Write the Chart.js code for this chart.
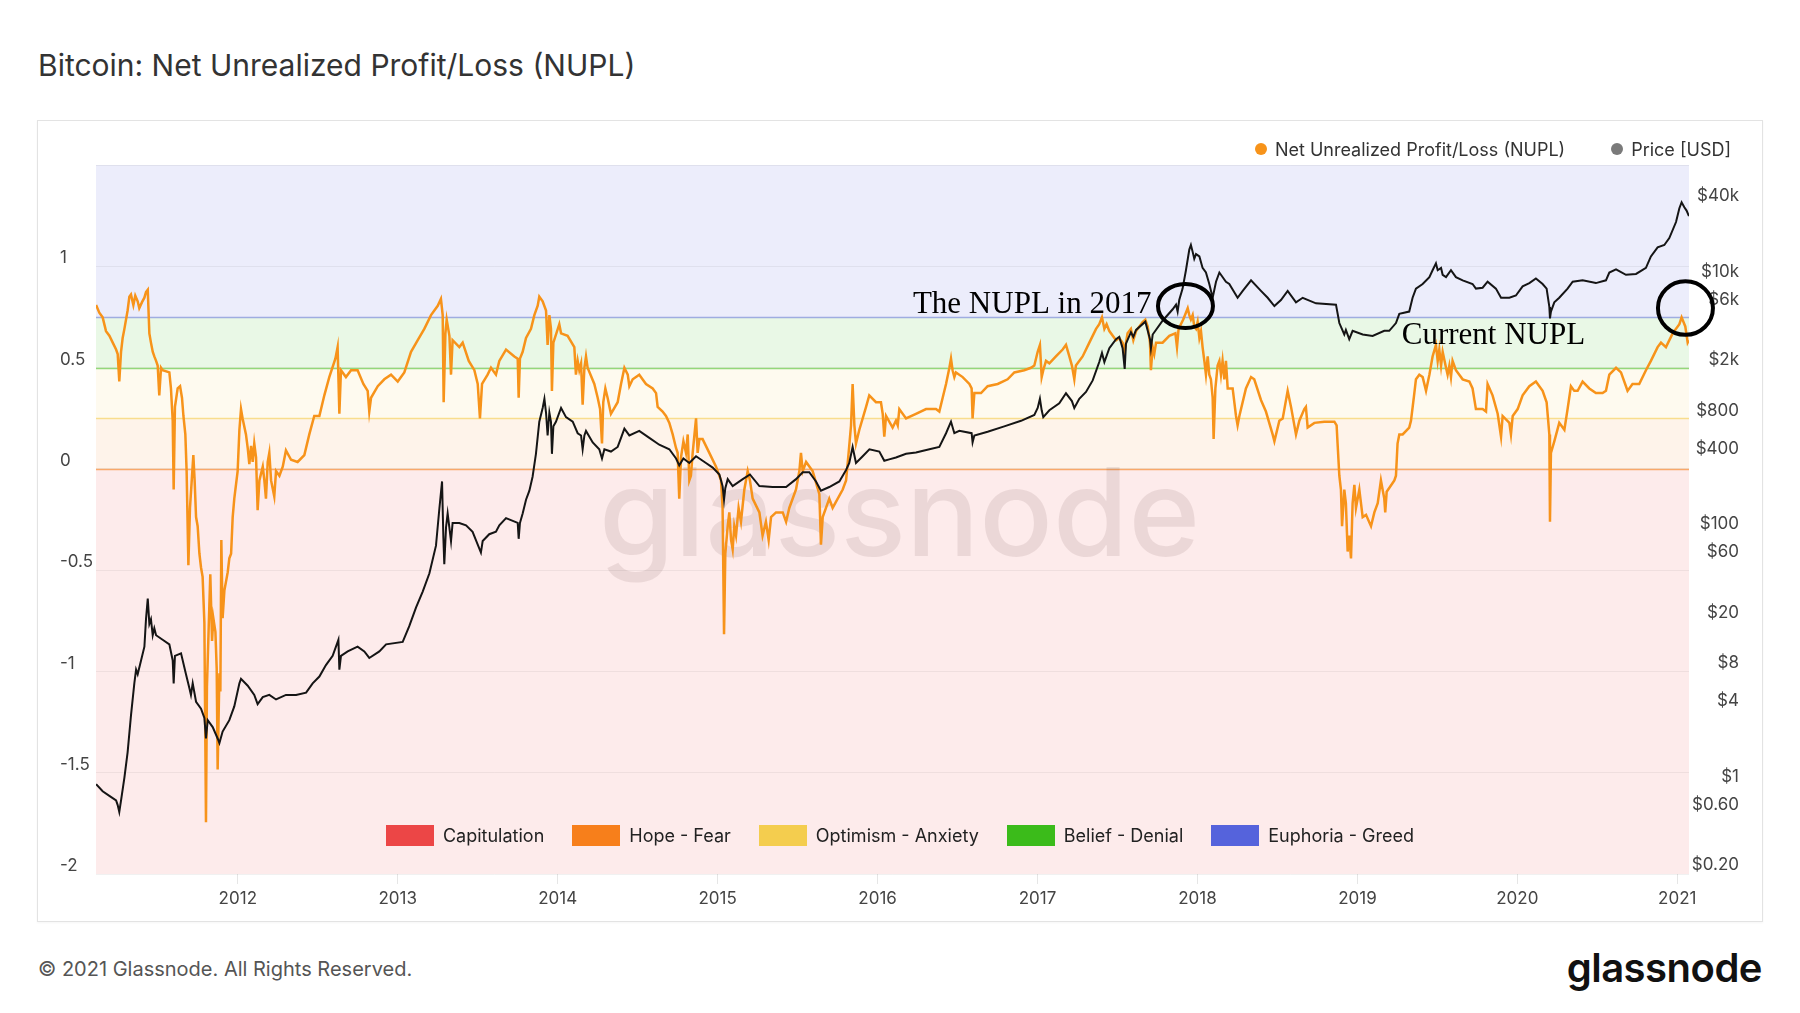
<!DOCTYPE html>
<html>
<head>
<meta charset="utf-8">
<script src="https://cdn.jsdelivr.net/npm/chart.js@4.4.1/dist/chart.umd.min.js"></script>
<style>
html,body{margin:0;padding:0;background:#fff;width:1800px;height:1013px;overflow:hidden;font-family:Inter,"Noto Sans",sans-serif;}
#title{position:absolute;left:38px;top:50px;font-size:30px;line-height:1;font-weight:400;color:#333;white-space:nowrap;}
#frame{position:absolute;left:37px;top:120px;width:1726px;height:802px;box-sizing:border-box;border:1px solid #e3e3e3;box-shadow:0 1px 2px rgba(0,0,0,0.04);}
#wrap{position:absolute;left:38px;top:121px;width:1723px;height:800px;}
#legendTop{position:absolute;right:69px;top:139px;height:20px;display:flex;align-items:center;gap:46px;font-size:18px;color:#333;}
.li{display:flex;align-items:center;white-space:nowrap;}
.dot{width:12px;height:12px;border-radius:50%;margin-right:8px;}
#zones{position:absolute;left:37px;width:1726px;top:824px;height:23px;display:flex;justify-content:center;align-items:center;gap:28px;font-size:18px;color:#222;}
.zi{display:flex;align-items:center;white-space:nowrap;}
.sq{width:48px;height:21px;margin-right:9px;}
#footer{position:absolute;left:38px;top:959px;font-size:20px;line-height:1;color:#555;white-space:nowrap;}
#logo{position:absolute;right:38px;top:948px;font-size:40px;line-height:1;font-weight:600;color:#111;letter-spacing:-0.5px;}
</style>
</head>
<body>
<div id="title">Bitcoin: Net Unrealized Profit/Loss (NUPL)</div>
<div id="frame"></div>
<div id="wrap"><canvas id="c" width="1723" height="800"></canvas></div>
<div id="legendTop"></div>
<div id="zones"></div>
<div id="footer">© 2021 Glassnode. All Rights Reserved.</div>
<div id="logo">glassnode</div>
<script>
// ---------- DATA ----------
const yearTicks = [2012, 2013, 2014, 2015, 2016, 2017, 2018, 2019, 2020, 2021];
const nuplTickValues = [-2, -1.5, -1, -0.5, 0, 0.5, 1, 1.5];
const nuplTickLabels = ['-2', '-1.5', '-1', '-0.5', '0', '0.5', '1', ''];
const priceTickValues = [0.2, 0.6, 1, 4, 8, 20, 60, 100, 400, 800, 2000, 6000, 10000, 40000];
const priceTickLabels = ['$0.20', '$0.60', '$1', '$4', '$8', '$20', '$60', '$100', '$400', '$800', '$2k', '$6k', '$10k', '$40k'];

const zoneNames = ['Capitulation', 'Hope - Fear', 'Optimism - Anxiety', 'Belief - Denial', 'Euphoria - Greed'];
const zoneFrom = [-2, 0, 0.25, 0.5, 0.75];
const zoneTo = [0, 0.25, 0.5, 0.75, 1.5];

const nuplYears = [
2011.114,2011.134,2011.155,2011.176,2011.197,2011.218,2011.239,2011.249,2011.259,2011.270,2011.280,2011.291,2011.311,2011.322,2011.332,2011.347,2011.359,2011.374,2011.384,2011.401,2011.416,2011.426,2011.437,2011.447,2011.457,2011.468,2011.478,2011.489,2011.499,2011.509,2011.520,2011.530,2011.572,2011.582,2011.593,2011.599,2011.607,2011.624,2011.639,2011.651,2011.660,2011.672,2011.680,2011.691,2011.701,2011.712,2011.722,2011.730,2011.739,2011.749,2011.760,2011.770,2011.780,2011.791,2011.797,2011.801,2011.807,2011.818,2011.828,2011.839,2011.847,2011.860,2011.868,2011.874,2011.885,2011.891,2011.897,2011.905,2011.916,2011.937,2011.947,2011.958,2011.968,2011.978,2011.999,
2012.010,2012.020,2012.030,2012.051,2012.062,2012.072,2012.083,2012.093,2012.103,2012.114,2012.124,2012.135,2012.156,2012.166,2012.176,2012.187,2012.197,2012.208,2012.228,2012.239,2012.260,2012.281,2012.301,2012.333,2012.374,2012.416,2012.447,2012.478,2012.510,2012.541,2012.572,2012.610,2012.624,2012.635,2012.645,2012.676,2012.708,2012.749,2012.785,2012.812,2012.822,2012.833,2012.875,2012.916,2012.958,
2013.000,2013.041,2013.083,2013.125,2013.166,2013.208,2013.250,2013.270,2013.281,2013.287,2013.298,2013.306,2013.323,2013.333,2013.343,2013.385,2013.406,2013.444,2013.479,2013.500,2013.514,2013.527,2013.562,2013.583,2013.614,2013.635,2013.677,2013.729,2013.750,2013.756,2013.764,2013.781,2013.802,2013.833,2013.854,2013.875,2013.885,2013.906,2013.927,2013.937,2013.948,2013.958,2013.964,2013.973,
2014.010,2014.021,2014.062,2014.104,2014.114,2014.125,2014.135,2014.146,2014.156,2014.167,2014.177,2014.187,2014.229,2014.250,2014.265,2014.277,2014.285,2014.298,2014.312,2014.333,2014.375,2014.396,2014.417,2014.438,2014.448,2014.469,2014.510,2014.552,2014.594,2014.615,2014.625,2014.656,2014.677,2014.698,2014.719,2014.740,2014.750,2014.760,2014.771,2014.786,2014.802,2014.813,2014.823,2014.833,2014.844,2014.865,2014.875,2014.886,2014.906,2014.948,2014.990,
2015.021,2015.031,2015.040,2015.048,2015.063,2015.073,2015.084,2015.094,2015.104,2015.115,2015.131,2015.146,2015.167,2015.188,2015.202,2015.219,2015.261,2015.281,2015.302,2015.319,2015.334,2015.365,2015.407,2015.428,2015.448,2015.490,2015.511,2015.521,2015.532,2015.553,2015.594,2015.636,2015.646,2015.657,2015.698,2015.719,2015.782,2015.803,2015.819,2015.834,2015.844,2015.855,2015.865,2015.886,2015.928,2015.948,2015.990,
2016.021,2016.032,2016.042,2016.053,2016.094,2016.115,2016.126,2016.136,2016.178,2016.240,2016.303,2016.365,2016.386,2016.407,2016.428,2016.449,2016.459,2016.469,2016.480,2016.490,2016.532,2016.574,2016.588,2016.594,2016.605,2016.647,2016.688,2016.751,2016.813,2016.855,2016.917,2016.959,2016.980,
2017.001,2017.015,2017.026,2017.036,2017.053,2017.074,2017.115,2017.157,2017.178,2017.199,2017.215,2017.230,2017.240,2017.282,2017.324,2017.366,2017.386,2017.403,2017.418,2017.432,2017.449,2017.491,2017.511,2017.532,2017.545,2017.553,2017.563,2017.584,2017.599,2017.616,2017.657,2017.674,2017.689,2017.703,2017.709,2017.720,2017.730,2017.741,2017.782,2017.824,2017.862,2017.872,2017.882,2017.911,2017.939,2017.949,2017.959,2017.970,2017.980,2017.991,
2018.001,2018.012,2018.022,2018.032,2018.043,2018.053,2018.064,2018.074,2018.084,2018.095,2018.101,2018.112,2018.126,2018.137,2018.147,2018.157,2018.168,2018.178,2018.189,2018.220,2018.241,2018.251,2018.262,2018.303,2018.335,2018.355,2018.397,2018.428,2018.470,2018.481,2018.512,2018.533,2018.564,2018.585,2018.616,2018.637,2018.668,2018.678,2018.689,2018.731,2018.793,2018.856,2018.870,2018.876,2018.887,2018.897,2018.904,2018.918,2018.928,2018.939,2018.949,2018.960,2018.970,2018.981,2018.991,
2019.012,2019.033,2019.054,2019.085,2019.106,2019.127,2019.147,2019.168,2019.174,2019.183,2019.231,2019.241,2019.251,2019.262,2019.283,2019.324,2019.335,2019.356,2019.366,2019.387,2019.408,2019.429,2019.450,2019.470,2019.491,2019.502,2019.512,2019.523,2019.533,2019.554,2019.564,2019.575,2019.585,2019.595,2019.616,2019.658,2019.700,2019.720,2019.741,2019.783,2019.804,2019.814,2019.845,2019.877,2019.898,2019.908,2019.950,2019.960,2019.971,
2020.002,2020.033,2020.075,2020.116,2020.158,2020.183,2020.200,2020.204,2020.210,2020.231,2020.262,2020.294,2020.314,2020.335,2020.356,2020.377,2020.408,2020.450,2020.491,2020.533,2020.554,2020.575,2020.617,2020.648,2020.679,2020.689,2020.720,2020.762,2020.804,2020.835,2020.877,2020.898,2020.929,2020.971,
2021.013,2021.027,2021.050,2021.065,2021.073
];
const nuplValues = [
0.809,0.771,0.748,0.680,0.657,0.623,0.589,0.567,0.431,0.578,0.646,0.691,0.782,0.850,0.861,0.809,0.855,0.827,0.793,0.823,0.845,0.873,0.884,0.669,0.623,0.578,0.555,0.533,0.510,0.363,0.499,0.487,0.476,0.397,0.238,-0.102,0.306,0.397,0.408,0.351,0.261,0.170,-0.011,-0.476,-0.193,-0.057,0.068,-0.057,-0.238,-0.283,-0.419,-0.487,-0.533,-0.759,-1.348,-1.745,-1.077,-0.782,-0.521,-0.850,-0.737,-0.805,-0.986,-1.484,-1.009,-1.099,-0.351,-0.737,-0.601,-0.510,-0.442,-0.419,-0.238,-0.147,-0.011,
0.193,0.295,0.249,0.170,0.102,0.023,0.113,0.034,0.125,0.057,-0.204,-0.057,0.011,-0.057,-0.147,0.034,0.079,-0.057,-0.136,-0.011,-0.034,0.011,0.091,0.045,0.034,0.068,0.170,0.261,0.261,0.363,0.453,0.544,0.601,0.272,0.487,0.453,0.487,0.487,0.419,0.385,0.283,0.351,0.408,0.442,0.465,
0.431,0.476,0.578,0.635,0.691,0.759,0.805,0.839,0.759,0.329,0.669,0.737,0.657,0.465,0.635,0.601,0.623,0.533,0.487,0.419,0.249,0.419,0.465,0.499,0.465,0.533,0.589,0.555,0.544,0.351,0.544,0.578,0.646,0.691,0.759,0.805,0.850,0.827,0.782,0.612,0.759,0.691,0.385,0.623,
0.714,0.669,0.657,0.601,0.465,0.533,0.487,0.521,0.317,0.499,0.555,0.499,0.419,0.351,0.295,0.125,0.329,0.397,0.351,0.272,0.329,0.419,0.499,0.465,0.408,0.442,0.465,0.419,0.397,0.374,0.306,0.283,0.261,0.227,0.170,0.102,0.079,-0.147,0.057,0.136,0.079,0.170,-0.057,-0.034,0.079,0.249,0.079,0.147,0.147,0.079,0.011,
-0.057,-0.193,-0.816,-0.419,-0.283,-0.215,-0.351,-0.397,-0.283,-0.329,-0.193,-0.261,-0.102,-0.011,-0.057,-0.147,-0.215,-0.329,-0.261,-0.351,-0.238,-0.215,-0.215,-0.261,-0.193,-0.102,-0.011,0.079,-0.011,0.034,-0.011,-0.125,-0.374,-0.238,-0.147,-0.193,-0.102,-0.057,0.079,0.215,0.419,0.215,0.125,0.193,0.306,0.363,0.329,
0.329,0.272,0.159,0.261,0.204,0.238,0.215,0.295,0.249,0.272,0.295,0.295,0.283,0.351,0.419,0.499,0.544,0.487,0.453,0.476,0.453,0.419,0.397,0.249,0.374,0.374,0.408,0.419,0.442,0.476,0.487,0.499,0.510,
0.578,0.612,0.453,0.487,0.533,0.521,0.555,0.589,0.612,0.555,0.510,0.442,0.510,0.555,0.623,0.691,0.714,0.748,0.691,0.714,0.680,0.635,0.646,0.623,0.578,0.623,0.669,0.691,0.635,0.680,0.725,0.737,0.703,0.623,0.487,0.601,0.567,0.623,0.623,0.657,0.669,0.601,0.691,0.737,0.793,0.759,0.737,0.759,0.703,0.691,
0.725,0.646,0.680,0.601,0.533,0.465,0.555,0.465,0.442,0.351,0.147,0.397,0.510,0.533,0.465,0.533,0.442,0.533,0.397,0.397,0.261,0.215,0.261,0.397,0.453,0.442,0.340,0.283,0.170,0.136,0.238,0.249,0.385,0.306,0.170,0.238,0.295,0.306,0.204,0.227,0.233,0.233,0.215,0.125,-0.034,-0.102,-0.283,-0.102,-0.170,-0.408,-0.329,-0.442,-0.170,-0.079,-0.193,
-0.102,-0.238,-0.227,-0.283,-0.215,-0.170,-0.057,-0.147,-0.215,-0.113,-0.057,-0.034,0.125,0.170,0.170,0.204,0.238,0.374,0.442,0.465,0.453,0.385,0.465,0.555,0.612,0.533,0.589,0.510,0.578,0.499,0.465,0.510,0.453,0.533,0.487,0.442,0.431,0.397,0.295,0.295,0.283,0.419,0.363,0.272,0.159,0.261,0.227,0.170,0.261,
0.295,0.363,0.408,0.431,0.385,0.329,0.170,-0.261,0.079,0.136,0.227,0.193,0.295,0.408,0.385,0.385,0.431,0.397,0.374,0.374,0.385,0.465,0.499,0.476,0.408,0.385,0.419,0.419,0.487,0.533,0.601,0.623,0.601,0.669,
0.714,0.748,0.703,0.623,0.635
];

const priceYears = [
2011.114,2011.155,2011.197,2011.239,2011.249,2011.259,2011.270,2011.291,2011.311,2011.332,2011.353,2011.364,2011.374,2011.395,2011.416,2011.426,2011.437,2011.447,2011.457,2011.468,2011.478,2011.489,2011.530,2011.572,2011.593,2011.599,2011.607,2011.645,2011.676,2011.697,2011.707,2011.718,2011.739,2011.770,2011.791,2011.801,2011.812,2011.843,2011.874,2011.885,2011.905,2011.947,2011.978,
2012.010,2012.020,2012.062,2012.103,2012.124,2012.156,2012.197,2012.239,2012.301,2012.364,2012.427,2012.468,2012.510,2012.551,2012.593,2012.629,2012.635,2012.645,2012.687,2012.749,2012.791,2012.822,2012.885,2012.927,
2013.031,2013.072,2013.114,2013.156,2013.198,2013.239,2013.260,2013.277,2013.285,2013.291,2013.302,2013.312,2013.333,2013.343,2013.385,2013.427,2013.468,2013.520,2013.531,2013.572,2013.614,2013.635,2013.677,2013.750,2013.756,2013.764,2013.781,2013.802,2013.823,2013.843,2013.864,2013.885,2013.906,2013.917,2013.927,2013.937,2013.948,2013.958,2013.964,2013.973,2013.989,
2014.021,2014.052,2014.094,2014.125,2014.146,2014.156,2014.167,2014.177,2014.219,2014.260,2014.277,2014.292,2014.333,2014.375,2014.396,2014.417,2014.448,2014.510,2014.573,2014.635,2014.698,2014.740,2014.760,2014.786,2014.823,2014.865,2014.927,2014.969,
2015.011,2015.031,2015.040,2015.048,2015.063,2015.094,2015.157,2015.202,2015.261,2015.344,2015.428,2015.490,2015.532,2015.573,2015.615,2015.646,2015.698,2015.761,2015.803,2015.823,2015.844,2015.865,2015.907,2015.949,
2016.011,2016.042,2016.073,2016.115,2016.178,2016.240,2016.324,2016.386,2016.428,2016.459,2016.480,2016.511,2016.588,2016.594,2016.605,2016.688,2016.792,2016.897,2016.980,
2017.001,2017.015,2017.026,2017.036,2017.074,2017.136,2017.178,2017.215,2017.230,2017.261,2017.303,2017.345,2017.386,2017.403,2017.418,2017.449,2017.491,2017.511,2017.532,2017.545,2017.553,2017.584,2017.599,2017.616,2017.674,2017.703,2017.709,2017.720,2017.782,2017.845,2017.866,2017.876,2017.886,2017.907,2017.928,2017.949,2017.959,2017.970,2017.980,2017.991,
2018.012,2018.032,2018.053,2018.074,2018.095,2018.116,2018.137,2018.178,2018.199,2018.251,2018.283,2018.335,2018.397,2018.439,2018.481,2018.522,2018.564,2018.616,2018.658,2018.741,2018.866,2018.887,2018.918,2018.928,2018.949,2018.970,
2019.033,2019.095,2019.168,2019.199,2019.241,2019.262,2019.324,2019.345,2019.366,2019.408,2019.450,2019.470,2019.491,2019.502,2019.523,2019.533,2019.554,2019.585,2019.616,2019.658,2019.720,2019.741,2019.783,2019.814,2019.866,2019.898,2019.950,2019.991,
2020.033,2020.075,2020.116,2020.158,2020.183,2020.200,2020.204,2020.210,2020.231,2020.262,2020.314,2020.346,2020.408,2020.491,2020.554,2020.575,2020.617,2020.679,2020.742,2020.804,2020.835,2020.877,2020.919,2020.950,2020.992,
2021.013,2021.027,2021.044,2021.058,2021.073
];
const priceValues = [
1.03,0.905,0.832,0.765,0.703,0.620,0.765,1.16,1.84,3.60,6.48,8.32,7.66,9.84,12.65,20.9,30.5,19.2,20.9,15.6,17.7,15.6,14.35,13.2,9.84,6.48,10.7,11.2,7.66,5.95,5.25,6.48,4.63,4.08,3.45,2.37,3.31,2.92,2.37,2.18,2.69,3.31,4.26,
6.48,7.04,6.21,5.25,4.44,5.04,5.25,4.83,5.25,5.25,5.47,6.48,7.34,9.05,10.7,14.35,8.32,10.7,11.6,12.65,11.6,10.3,11.6,13.2,
13.8,18.4,25.8,34.6,48.3,79.9,156,258,94.5,57.1,112,144,86.9,121,121,116,103,70.5,86.9,98.5,103,116,132,121,90.6,121,144,185,218,281,427,767,986,1166,907,597,907,767,427,705,767,
986,834,767,622,597,464,597,649,526,464,392,464,445,484,572,676,597,649,572,504,464,392,346,392,361,409,361,332,
293,237,185,228,269,237,269,293,237,233,233,269,305,305,258,218,233,258,318,361,484,361,409,464,
445,376,386,399,427,438,464,484,622,767,622,649,622,526,597,638,705,780,869,
986,1166,945,834,945,1072,1289,1118,986,1166,1322,1630,2279,2694,2279,2930,3463,3612,2930,2010,3185,3928,3612,4095,4761,3463,2930,3766,4842,5970,6493,5726,7058,8701,12170,17740,19290,17010,15010,16320,
15640,12690,11670,9463,7363,9868,11670,9868,9463,7363,8347,10120,8347,7363,6330,7058,8347,6768,7363,6656,6493,4643,3766,4095,3463,4027,
3766,3673,4027,4027,4643,5491,5726,7363,8701,9463,10730,12170,13790,12170,12690,11190,10730,12170,10730,10120,9463,8701,8849,9868,8701,7363,7363,7676,
9075,9623,10460,9463,8701,6225,5049,5726,6768,7363,8701,9868,10120,9623,10120,11670,12370,11190,11380,12690,15640,18490,19290,21870,29320,
37690,42030,38330,36150,32690
];

// ---------- STYLE / LAYOUT ----------
const FONT = 'Inter, "Noto Sans", sans-serif';
Chart.defaults.font.family = FONT;
const zoneColors = ['#ec4646', '#f77f1b', '#f4cd4e', '#3bbb1a', '#5563dc'];
const zoneFills = ['rgba(236,70,70,0.105)', 'rgba(247,127,27,0.09)', 'rgba(244,205,78,0.09)', 'rgba(59,187,26,0.11)', 'rgba(85,99,220,0.115)'];
const zoneLines = ['rgba(236,70,70,0)', 'rgba(247,127,27,0.62)', 'rgba(244,205,78,0.6)', 'rgba(59,187,26,0.55)', 'rgba(85,99,220,0.5)'];

const zonesPlugin = {
  id: 'zones',
  beforeDraw(chart) {
    const {ctx, chartArea: a, scales: {y}} = chart;
    ctx.save();
    zoneFrom.forEach((f, i) => {
      const top = y.getPixelForValue(zoneTo[i]);
      const bot = y.getPixelForValue(f);
      ctx.fillStyle = zoneFills[i];
      ctx.fillRect(a.left, top, a.right - a.left, bot - top);
    });
    ctx.restore();
  },
  beforeDatasetsDraw(chart) {
    const {ctx, chartArea: a, scales: {y}} = chart;
    ctx.save();
    zoneFrom.forEach((f, i) => {
      if (i === 0) return;
      const py = Math.round(y.getPixelForValue(f)) + 0.5;
      ctx.strokeStyle = zoneLines[i];
      ctx.lineWidth = 1.5;
      ctx.beginPath(); ctx.moveTo(a.left, py); ctx.lineTo(a.right, py); ctx.stroke();
    });
    // watermark
    ctx.font = '500 122px ' + FONT;
    ctx.fillStyle = 'rgba(60,25,25,0.095)';
    ctx.textAlign = 'center';
    ctx.textBaseline = 'alphabetic';
    ctx.fillText('glassnode', chart.width / 2, (a.top + a.bottom) / 2 + 36);
    ctx.restore();
  }
};

const notesPlugin = {
  id: 'notes',
  afterDraw(chart, args, opts) {
    const {ctx, scales: {x, y}} = chart;
    ctx.save();
    ctx.font = opts.font;
    ctx.fillStyle = opts.color;
    ctx.textAlign = 'left';
    ctx.textBaseline = 'alphabetic';
    opts.texts.forEach(t => ctx.fillText(t.text, x.getPixelForValue(t.x), y.getPixelForValue(t.y)));
    ctx.strokeStyle = opts.color;
    ctx.lineWidth = opts.ringWidth;
    opts.rings.forEach(r => {
      ctx.beginPath();
      ctx.ellipse(x.getPixelForValue(r.x), y.getPixelForValue(r.y), r.rx, r.ry, 0, 0, Math.PI * 2);
      ctx.stroke();
    });
    ctx.restore();
  }
};

const tickFont = {size: 17, family: FONT};
const tickColor = '#444';

const chart = new Chart(document.getElementById('c'), {
  type: 'line',
  data: {
    datasets: [
      {
        label: 'Net Unrealized Profit/Loss (NUPL)',
        data: nuplYears.map((x, i) => ({x, y: nuplValues[i]})),
        yAxisID: 'y',
        borderColor: '#f7931a',
        backgroundColor: '#f7931a',
        borderWidth: 2.5,
        pointRadius: 0,
        tension: 0,
        order: 1
      },
      {
        label: 'Price [USD]',
        data: priceYears.map((x, i) => ({x, y: priceValues[i]})),
        yAxisID: 'y2',
        borderColor: '#151515',
        backgroundColor: '#7a7a7a',
        borderWidth: 2,
        pointRadius: 0,
        tension: 0,
        order: 0
      }
    ]
  },
  options: {
    responsive: false,
    animation: false,
    events: [],
    layout: {padding: {top: 44, left: 22, right: 22, bottom: 0}},
    plugins: {
      legend: {display: false},
      tooltip: {enabled: false},
      notes: {
        font: '31px "Liberation Serif", "Times New Roman", serif',
        color: '#000',
        ringWidth: 4,
        texts: [
          {text: 'The NUPL in 2017', x: 2016.221, y: 0.771},
          {text: 'Current NUPL', x: 2019.277, y: 0.616}
        ],
        rings: [
          {x: 2017.925, y: 0.804, rx: 27.5, ry: 22},
          {x: 2021.051, y: 0.794, rx: 27.5, ry: 26.8}
        ]
      }
    },
    scales: {
      x: {
        type: 'linear',
        min: 2011.1134,
        max: 2021.0732,
        grid: {display: true, drawOnChartArea: false, drawTicks: true, tickLength: 10, color: '#e6e6e6'},
        border: {display: false},
        ticks: {font: tickFont, color: tickColor, padding: 5, autoSkip: false, maxRotation: 0, callback: v => String(v)},
        afterBuildTicks: s => { s.ticks = yearTicks.map(v => ({value: v})); },
        afterFit: s => { s.height = 47; }
      },
      y: {
        type: 'linear',
        position: 'left',
        min: -2,
        max: 1.5,
        grid: {color: 'rgba(0,0,0,0.055)', drawTicks: false},
        border: {display: false},
        ticks: {font: tickFont, color: tickColor, crossAlign: 'far', labelOffset: -8, padding: 0, autoSkip: false,
                callback: (v, i) => nuplTickLabels[i]},
        afterBuildTicks: s => { s.ticks = nuplTickValues.map(v => ({value: v})); },
        afterFit: s => { s.width = 36; }
      },
      y2: {
        type: 'logarithmic',
        position: 'right',
        min: 0.2,
        max: 83000,
        grid: {drawOnChartArea: false, drawTicks: false},
        border: {display: false},
        ticks: {font: tickFont, color: tickColor, crossAlign: 'far', labelOffset: -9, padding: 0, autoSkip: false,
                callback: (v, i) => priceTickLabels[i]},
        afterBuildTicks: s => { s.ticks = priceTickValues.map(v => ({value: v})); },
        afterFit: s => { s.width = 50; }
      }
    }
  },
  plugins: [zonesPlugin, notesPlugin]
});

// top legend (series) built from the chart datasets
const lt = document.getElementById('legendTop');
chart.data.datasets.forEach(ds => {
  const d = document.createElement('div'); d.className = 'li';
  const dot = document.createElement('span'); dot.className = 'dot'; dot.style.background = ds.backgroundColor;
  const t = document.createElement('span'); t.textContent = ds.label;
  d.appendChild(dot); d.appendChild(t); lt.appendChild(d);
});
// zone legend
const zl = document.getElementById('zones');
zoneNames.forEach((n, i) => {
  const d = document.createElement('div'); d.className = 'zi';
  const sq = document.createElement('span'); sq.className = 'sq'; sq.style.background = zoneColors[i];
  const t = document.createElement('span'); t.textContent = n;
  d.appendChild(sq); d.appendChild(t); zl.appendChild(d);
});
</script>
</body>
</html>
